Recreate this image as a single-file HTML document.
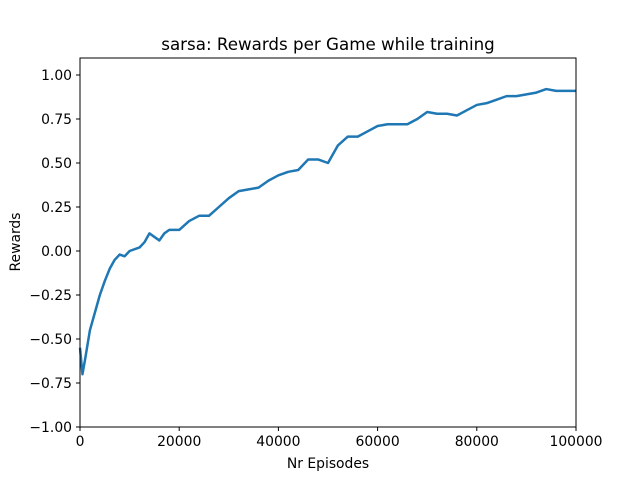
<!DOCTYPE html>
<html><head><meta charset="utf-8"><style>body{margin:0;background:#fff}svg{display:block;font-family:"DejaVu Sans","Liberation Sans",sans-serif}</style></head>
<body>
<svg id="chart" width="640" height="480">
<rect x="0" y="0" width="640" height="480" fill="#fff"/>
<text x="328" y="50" text-anchor="middle" font-size="16.7">sarsa: Rewards per Game while training</text>
<g id="plot"></g>
<rect x="80" y="58" width="496" height="369" fill="none" stroke="#000" stroke-width="1"/>
<text x="328" y="468" text-anchor="middle" font-size="13.9">Nr Episodes</text>
<text transform="translate(20,242) rotate(-90)" text-anchor="middle" font-size="13.9">Rewards</text>
</svg>
<script>
const episodes=[0,500,1000,2000,3000,4000,5000,6000,7000,8000,9000,10000,12000,13000,14000,15000,16000,17000,18000,20000,22000,24000,26000,28000,30000,32000,34000,36000,38000,40000,42000,44000,46000,48000,50000,52000,54000,56000,58000,60000,62000,64000,66000,68000,70000,72000,74000,76000,78000,80000,82000,84000,86000,88000,90000,92000,94000,96000,98000,100000];
const rewards=[-0.55,-0.7,-0.62,-0.45,-0.35,-0.25,-0.17,-0.1,-0.05,-0.02,-0.03,0.0,0.02,0.05,0.1,0.08,0.06,0.1,0.12,0.12,0.17,0.2,0.2,0.25,0.3,0.34,0.35,0.36,0.4,0.43,0.45,0.46,0.52,0.52,0.5,0.6,0.65,0.65,0.68,0.71,0.72,0.72,0.72,0.75,0.79,0.78,0.78,0.77,0.8,0.83,0.84,0.86,0.88,0.88,0.89,0.9,0.92,0.91,0.91,0.91];
const xTicks=[0,20000,40000,60000,80000,100000];
const yTicks=[-1.00,-0.75,-0.50,-0.25,0.00,0.25,0.50,0.75,1.00];
const X=v=>80+v/100000*496, Y=v=>427-(v+1)*176;
const g=document.getElementById('plot'),NS='http://www.w3.org/2000/svg';
function mk(t,a){const e=document.createElementNS(NS,t);for(const k in a)e.setAttribute(k,a[k]);g.appendChild(e);return e;}
xTicks.forEach(t=>{const x=X(t);
const l=mk('line',{x1:x,x2:x,y1:427,y2:431,stroke:'#000'});


const s=mk('text',{x:x,y:446,'text-anchor':'middle','font-size':13.9});s.textContent=t;

});
yTicks.forEach(t=>{const y=Y(t);
const l=mk('line',{x1:76,x2:80,y1:y,y2:y,stroke:'#000'});


const s=mk('text',{x:72,y:y+5,'text-anchor':'end','font-size':13.9});s.textContent=(t<0?'\u2212':'')+Math.abs(t).toFixed(2);

});
const p=mk('polyline',{points:episodes.map((e,i)=>X(e)+','+Y(rewards[i])).join(' '),fill:'none',stroke:'#1f77b4','stroke-width':2.5,'stroke-linejoin':'round'});


</script>
</body></html>
